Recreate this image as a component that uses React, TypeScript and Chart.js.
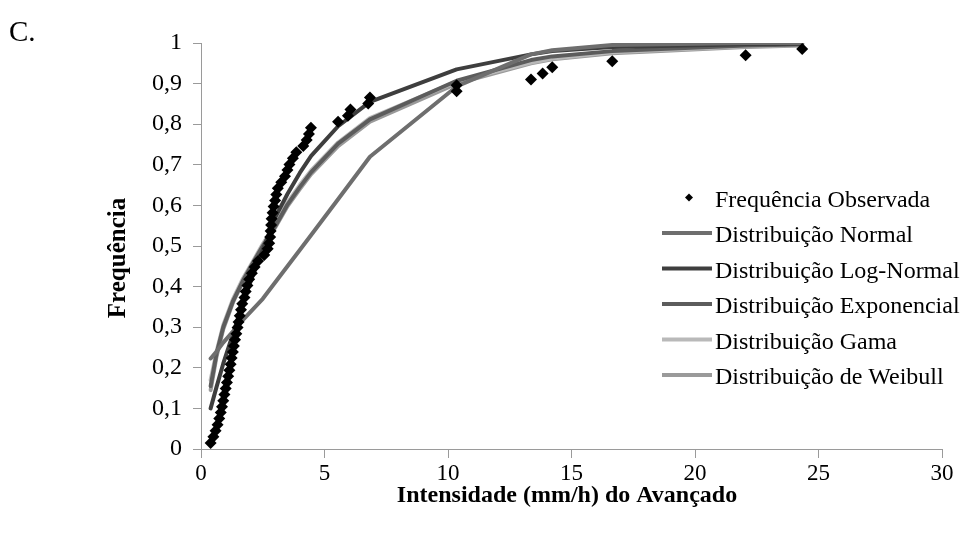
import { useEffect, useRef } from 'react';
import { Chart, registerables } from 'chart.js';

Chart.register(...registerables);

// Observed cumulative frequency (empirical CDF of rainfall intensity)
const obsX = [
  0.39, 0.5, 0.59, 0.67, 0.74, 0.8, 0.85, 0.9, 0.95, 1.0,
  1.05, 1.1, 1.15, 1.2, 1.24, 1.29, 1.33, 1.38, 1.43, 1.48,
  1.52, 1.57, 1.62, 1.67, 1.76, 1.81, 1.88, 1.95, 2.06, 2.17,
  2.31, 2.56, 2.7, 2.76, 2.8, 2.82, 2.84, 2.86, 2.9, 2.94,
  3.0, 3.05, 3.11, 3.25, 3.4, 3.5, 3.58, 3.72, 3.86, 4.14,
  4.28, 4.37, 4.45, 5.55, 5.95, 6.05, 6.77, 6.84, 10.35, 10.35,
  13.36, 13.83, 14.22, 16.65, 22.05, 24.34,
];
const obsY = [
  0.015, 0.03, 0.045, 0.06, 0.075, 0.09, 0.104, 0.119, 0.134, 0.149,
  0.164, 0.179, 0.194, 0.209, 0.224, 0.239, 0.254, 0.269, 0.284, 0.299,
  0.313, 0.328, 0.343, 0.358, 0.373, 0.388, 0.403, 0.418, 0.433, 0.448,
  0.463, 0.478, 0.493, 0.507, 0.522, 0.537, 0.552, 0.567, 0.582, 0.597,
  0.612, 0.627, 0.642, 0.657, 0.672, 0.687, 0.701, 0.716, 0.731, 0.746,
  0.761, 0.776, 0.791, 0.806, 0.821, 0.836, 0.851, 0.866, 0.881, 0.896,
  0.91, 0.925, 0.94, 0.955, 0.97, 0.985,
];

// Fitted distributions, evaluated on a common intensity grid
const fitX = [0.39, 0.63, 0.9, 1.3, 1.7, 2.1, 2.5, 3.0, 3.5, 4.0, 4.46, 5.55, 6.84, 10.35, 13.36, 14.22, 16.65, 22.05, 24.34];
const normalY = [0.223, 0.24, 0.262, 0.29, 0.318, 0.344, 0.37, 0.41, 0.45, 0.49, 0.527, 0.615, 0.72, 0.893, 0.972, 0.982, 0.995, 1.0, 1.0];
const logNormalY = [0.1, 0.153, 0.21, 0.285, 0.36, 0.428, 0.49, 0.57, 0.628, 0.68, 0.722, 0.795, 0.855, 0.935, 0.972, 0.98, 0.99, 0.997, 0.998];
const exponentialY = [0.155, 0.235, 0.3, 0.365, 0.415, 0.458, 0.5, 0.548, 0.602, 0.645, 0.682, 0.752, 0.812, 0.907, 0.958, 0.967, 0.98, 0.994, 0.996];
const gammaY = [0.17, 0.24, 0.305, 0.37, 0.42, 0.462, 0.505, 0.552, 0.607, 0.65, 0.686, 0.755, 0.815, 0.905, 0.952, 0.962, 0.977, 0.992, 0.995];
const weibullY = [0.145, 0.228, 0.295, 0.362, 0.412, 0.455, 0.497, 0.545, 0.598, 0.64, 0.677, 0.746, 0.806, 0.9, 0.95, 0.96, 0.975, 0.99, 0.994];

const seriesLabels = [
  'Frequência Observada',
  'Distribuição Normal',
  'Distribuição Log-Normal',
  'Distribuição Exponencial',
  'Distribuição Gama',
  'Distribuição de Weibull',
];
const seriesColors = ['#000000', '#6e6e6e', '#3e3e3e', '#5c5c5c', '#b9b9b9', '#9a9a9a'];

const xTickLabels = ['0', '5', '10', '15', '20', '25', '30'];
const yTickLabels = ['0', '0,1', '0,2', '0,3', '0,4', '0,5', '0,6', '0,7', '0,8', '0,9', '1'];

const panelLabel = 'C.';
const xTitle = 'Intensidade (mm/h) do Avançado';
const yTitle = 'Frequência';

const FONT = '"Liberation Serif", "Times New Roman", serif';
const AXIS_GREY = '#9a9a9a';

const toPoints = (xs: number[], ys: number[]) => xs.map((x, i) => ({ x, y: ys[i] }));

// Panel letter, axis titles and the in-plot legend
const decorations = {
  id: 'decorations',
  afterDraw(chart: any) {
    const ctx: CanvasRenderingContext2D = chart.ctx;
    ctx.save();
    ctx.fillStyle = '#000';

    ctx.font = `29px ${FONT}`;
    ctx.textAlign = 'left';
    ctx.textBaseline = 'alphabetic';
    ctx.fillText(panelLabel, 9, 41);

    ctx.font = `bold 24px ${FONT}`;
    ctx.textAlign = 'center';
    ctx.textBaseline = 'middle';
    ctx.fillText(xTitle, 567, 496);
    ctx.save();
    ctx.translate(119, 258);
    ctx.rotate(-Math.PI / 2);
    ctx.font = `bold 25px ${FONT}`;
    ctx.fillText(yTitle, 0, 0);
    ctx.restore();

    ctx.font = `24px ${FONT}`;
    ctx.textAlign = 'left';
    ctx.textBaseline = 'alphabetic';
    const datasets = chart.data.datasets;
    datasets.forEach((ds: any, i: number) => {
      const base = 206.5 + i * 35.5;
      const mid = base - 9;
      if (i === 0) {
        const r = 4;
        ctx.beginPath();
        ctx.moveTo(689, mid - r);
        ctx.lineTo(689 + r, mid);
        ctx.lineTo(689, mid + r);
        ctx.lineTo(689 - r, mid);
        ctx.closePath();
        ctx.fillStyle = ds.backgroundColor;
        ctx.fill();
      } else {
        ctx.beginPath();
        ctx.moveTo(662, mid);
        ctx.lineTo(712, mid);
        ctx.strokeStyle = ds.borderColor;
        ctx.lineWidth = 4;
        ctx.stroke();
      }
      ctx.fillStyle = '#000';
      ctx.fillText(ds.label, 715, base);
    });
    ctx.restore();
  },
};

export default function App() {
  const canvasRef = useRef<HTMLCanvasElement | null>(null);

  useEffect(() => {
    const canvas = canvasRef.current;
    if (!canvas) return;

    const fits = [normalY, logNormalY, exponentialY, gammaY, weibullY];
    const datasets: any[] = [
      {
        label: seriesLabels[0],
        data: toPoints(obsX, obsY),
        showLine: false,
        pointStyle: 'rectRot',
        pointRadius: 6,
        pointBorderWidth: 0,
        backgroundColor: seriesColors[0],
        borderColor: seriesColors[0],
      },
      ...fits.map((ys, k) => ({
        label: seriesLabels[k + 1],
        data: toPoints(fitX, ys),
        showLine: true,
        pointRadius: 0,
        borderColor: seriesColors[k + 1],
        backgroundColor: seriesColors[k + 1],
        borderWidth: 4,
        tension: 0,
        borderJoinStyle: 'round',
        borderCapStyle: 'round',
      })),
    ];

    const chart = new Chart(canvas, {
      type: 'scatter',
      data: { datasets },
      options: {
        animation: false,
        responsive: false,
        devicePixelRatio: 1,
        layout: { padding: { top: 43, right: 31, left: 0, bottom: 0 } },
        plugins: {
          legend: { display: false },
          tooltip: { enabled: false },
          title: { display: false },
        },
        scales: {
          x: {
            type: 'linear',
            min: 0,
            max: 30,
            afterFit: (s: any) => {
              s.height = 85;
            },
            afterBuildTicks: (s: any) => {
              s.ticks = xTickLabels.map((_, i) => ({ value: i * 5 }));
            },
            ticks: {
              callback: (_v: any, i: number) => xTickLabels[i],
              font: { family: FONT, size: 23 },
              color: '#000',
              padding: 2,
              maxRotation: 0,
            },
            grid: { drawOnChartArea: false, drawTicks: true, tickLength: 9, color: AXIS_GREY },
            border: { display: true, color: AXIS_GREY, width: 1 },
          },
          y: {
            type: 'linear',
            min: 0,
            max: 1,
            afterFit: (s: any) => {
              s.width = 201;
            },
            afterBuildTicks: (s: any) => {
              s.ticks = yTickLabels.map((_, i) => ({ value: i / 10 }));
            },
            ticks: {
              callback: (_v: any, i: number) => yTickLabels[i],
              font: { family: FONT, size: 24 },
              color: '#000',
              padding: 11,
            },
            grid: { drawOnChartArea: false, drawTicks: true, tickLength: 8, color: AXIS_GREY },
            border: { display: true, color: AXIS_GREY, width: 1 },
          },
        },
      },
      plugins: [decorations],
    });

    return () => chart.destroy();
  }, []);

  return (
    <div style={{ position: 'fixed', left: 0, top: 0, width: 973, height: 534, background: '#fff' }}>
      <canvas ref={canvasRef} width={973} height={534} style={{ display: 'block' }} />
    </div>
  );
}
